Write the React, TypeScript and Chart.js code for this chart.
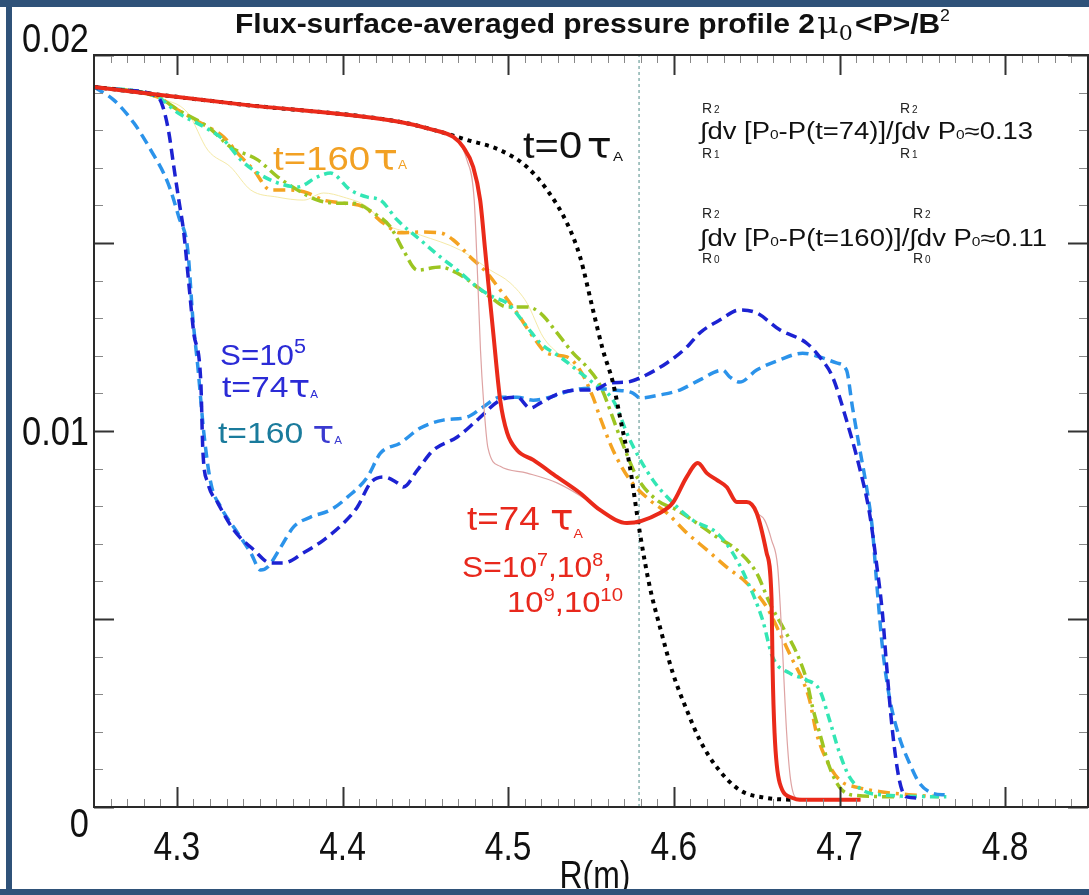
import React, { useEffect, useRef } from "react";
import { Chart, registerables } from "chart.js";
Chart.register(...registerables);

const W = 1089;
const H = 895;

// ---------- data ----------
const xT0 = [4.25, 4.34, 4.4349, 4.4548, 4.4753, 4.4952, 4.5114, 4.5235, 4.5355, 4.5434, 4.5512, 4.5572, 4.5633, 4.5675, 4.5735, 4.5795, 4.5855, 4.5916, 4.5994, 4.6078, 4.6157, 4.6259, 4.6398, 4.656, 4.6717];
const yT0 = [0.01915, 0.01868, 0.01822, 0.01801, 0.01774, 0.01747, 0.01702, 0.01641, 0.01553, 0.01463, 0.01322, 0.01215, 0.01128, 0.01037, 0.00904, 0.00729, 0.00585, 0.00479, 0.00356, 0.00258, 0.00178, 0.00106, 0.00045, 0.00024, 0.00019];

const xRed74 = [4.25, 4.34, 4.4349, 4.4548, 4.4669, 4.4729, 4.4789, 4.4831, 4.4861, 4.488, 4.491, 4.4952, 4.4994, 4.5054, 4.5151, 4.5295, 4.5434, 4.5554, 4.5717, 4.5916, 4.5994, 4.6078, 4.6145, 4.6199, 4.6259, 4.6319, 4.638, 4.644, 4.65, 4.656, 4.659, 4.6596, 4.6608, 4.6639, 4.6717, 4.6759, 4.7127];
const yRed74 = [0.01915, 0.01868, 0.01822, 0.01801, 0.01782, 0.01755, 0.01702, 0.01614, 0.01481, 0.01394, 0.01261, 0.01082, 0.00995, 0.00949, 0.00923, 0.00878, 0.00835, 0.0079, 0.00755, 0.00782, 0.00809, 0.00878, 0.00915, 0.00888, 0.0087, 0.00851, 0.00811, 0.00811, 0.00782, 0.00676, 0.00551, 0.00372, 0.00197, 0.00064, 0.00024, 0.00019, 0.00019];

const xPink74 = [4.25, 4.34, 4.4349, 4.4548, 4.4693, 4.4751, 4.4795, 4.4817, 4.4833, 4.4851, 4.4878, 4.4952, 4.5114, 4.5295, 4.5476, 4.5554, 4.5717, 4.5916, 4.5994, 4.6078, 4.6145, 4.6199, 4.6259, 4.6319, 4.638, 4.644, 4.65, 4.6548, 4.659, 4.6627, 4.6651, 4.6681, 4.6705, 4.6741, 4.7127];
const yPink74 = [0.01915, 0.01868, 0.01822, 0.01801, 0.01774, 0.01721, 0.01614, 0.01394, 0.01215, 0.01082, 0.00955, 0.00906, 0.00888, 0.00862, 0.00816, 0.0079, 0.00755, 0.00782, 0.00809, 0.00878, 0.00915, 0.00888, 0.0087, 0.00851, 0.00811, 0.00811, 0.00782, 0.00763, 0.0071, 0.00638, 0.00463, 0.00197, 0.00072, 0.00024, 0.00019];

const xBlue74 = [4.25, 4.2681, 4.2886, 4.2916, 4.2952, 4.2982, 4.3012, 4.3042, 4.3072, 4.3102, 4.3145, 4.3157, 4.3187, 4.3247, 4.3343, 4.3464, 4.3566, 4.3645, 4.3765, 4.3886, 4.4006, 4.409, 4.4169, 4.4247, 4.4331, 4.4367, 4.4452, 4.4548, 4.4693, 4.4813, 4.4952, 4.5054, 4.5133, 4.5193, 4.5313, 4.5416, 4.5512, 4.5614, 4.5717, 4.5795, 4.5958, 4.6078, 4.6157, 4.6277, 4.6398, 4.65, 4.6639, 4.6801, 4.688, 4.6958, 4.7042, 4.712, 4.7181, 4.7223, 4.7259, 4.7283, 4.7319, 4.7361, 4.7404, 4.7482];
const yBlue74 = [0.01915, 0.01907, 0.01888, 0.01862, 0.01793, 0.01702, 0.01614, 0.01527, 0.01394, 0.01261, 0.01128, 0.00949, 0.00862, 0.00809, 0.00737, 0.00684, 0.00649, 0.00649, 0.00676, 0.0071, 0.00755, 0.00798, 0.00862, 0.00878, 0.00862, 0.00851, 0.00896, 0.00949, 0.00984, 0.01029, 0.01082, 0.0109, 0.01061, 0.01074, 0.01101, 0.01109, 0.01109, 0.01128, 0.0113, 0.01141, 0.01181, 0.01223, 0.01261, 0.01295, 0.01322, 0.01314, 0.01269, 0.01234, 0.01197, 0.01144, 0.01029, 0.00904, 0.00782, 0.00649, 0.00516, 0.00383, 0.00205, 0.00072, 0.00027, 0.00024];

const xBlue160 = [4.25, 4.262, 4.2741, 4.2843, 4.2946, 4.3012, 4.3066, 4.3096, 4.3127, 4.3163, 4.3205, 4.3265, 4.3367, 4.3446, 4.3506, 4.3548, 4.3627, 4.3705, 4.3807, 4.3928, 4.403, 4.4151, 4.4229, 4.4349, 4.447, 4.4608, 4.4753, 4.4849, 4.4952, 4.5054, 4.5151, 4.5253, 4.5392, 4.5512, 4.5633, 4.5753, 4.5795, 4.5916, 4.6036, 4.6157, 4.6295, 4.6337, 4.6398, 4.65, 4.6639, 4.6777, 4.688, 4.6982, 4.7042, 4.7078, 4.712, 4.7163, 4.7199, 4.7223, 4.7259, 4.7301, 4.7361, 4.7422, 4.7482, 4.756, 4.7645];
const yBlue160 = [0.01915, 0.0188, 0.01819, 0.01747, 0.0166, 0.01569, 0.01481, 0.01303, 0.0117, 0.00995, 0.00862, 0.00798, 0.00729, 0.00676, 0.0063, 0.00638, 0.00691, 0.00745, 0.00771, 0.0079, 0.00824, 0.00878, 0.00941, 0.00968, 0.01008, 0.01029, 0.01037, 0.01064, 0.0109, 0.0109, 0.01082, 0.0109, 0.01109, 0.01114, 0.01109, 0.01101, 0.01088, 0.01096, 0.01109, 0.01136, 0.01162, 0.01144, 0.0113, 0.01162, 0.01189, 0.01207, 0.01197, 0.01181, 0.01162, 0.01064, 0.00957, 0.00851, 0.00737, 0.00604, 0.00426, 0.00293, 0.00186, 0.00117, 0.00064, 0.00037, 0.00032];

const xOrange160 = [4.25, 4.2681, 4.2886, 4.3006, 4.3145, 4.3283, 4.3367, 4.3464, 4.3566, 4.3687, 4.3789, 4.3886, 4.4006, 4.4127, 4.4247, 4.4349, 4.447, 4.459, 4.4669, 4.4771, 4.4873, 4.4952, 4.5054, 4.5151, 4.5235, 4.5355, 4.5434, 4.5512, 4.5554, 4.5633, 4.5735, 4.5855, 4.5958, 4.6078, 4.6199, 4.6319, 4.644, 4.656, 4.6639, 4.6717, 4.6777, 4.6819, 4.6861, 4.6922, 4.7, 4.712, 4.7259, 4.744, 4.7602];
const yOrange160 = [0.01915, 0.01907, 0.01888, 0.01854, 0.01819, 0.01782, 0.01739, 0.01694, 0.01641, 0.01641, 0.01633, 0.01614, 0.01606, 0.01596, 0.01553, 0.01527, 0.01529, 0.01527, 0.01508, 0.01463, 0.0142, 0.01375, 0.01314, 0.0125, 0.01207, 0.01197, 0.01162, 0.0109, 0.01037, 0.00949, 0.0087, 0.00816, 0.00782, 0.00729, 0.00684, 0.00638, 0.00596, 0.00532, 0.00463, 0.00391, 0.00338, 0.00285, 0.00197, 0.00125, 0.00072, 0.00051, 0.0004, 0.00032, 0.00027];

const xGreen160 = [4.25, 4.2886, 4.3006, 4.3187, 4.3325, 4.3488, 4.3608, 4.3729, 4.3849, 4.397, 4.4066, 4.4187, 4.4289, 4.4367, 4.4452, 4.459, 4.4693, 4.4813, 4.4892, 4.4994, 4.5114, 4.5193, 4.5295, 4.5392, 4.5476, 4.5554, 4.5675, 4.5777, 4.5898, 4.6018, 4.6139, 4.6259, 4.638, 4.65, 4.6578, 4.6657, 4.6741, 4.6801, 4.6837, 4.688, 4.694, 4.7, 4.7078, 4.7361];
const yGreen160 = [0.01915, 0.01888, 0.01854, 0.01809, 0.01755, 0.01721, 0.01676, 0.01641, 0.01614, 0.01606, 0.01606, 0.0158, 0.01543, 0.01481, 0.01428, 0.01436, 0.0142, 0.01383, 0.01356, 0.0133, 0.0133, 0.01314, 0.01261, 0.01207, 0.0117, 0.01122, 0.00984, 0.00878, 0.00816, 0.0079, 0.00755, 0.00718, 0.00684, 0.00622, 0.00543, 0.00479, 0.0041, 0.00338, 0.00266, 0.00197, 0.00106, 0.00053, 0.00032, 0.00027];

const xCyan160 = [4.25, 4.2886, 4.3006, 4.3163, 4.3283, 4.3386, 4.3488, 4.3608, 4.3729, 4.3849, 4.3928, 4.4048, 4.4151, 4.4229, 4.4331, 4.447, 4.459, 4.4693, 4.4813, 4.491, 4.4994, 4.5114, 4.5193, 4.5313, 4.5416, 4.5512, 4.5633, 4.5735, 4.5873, 4.5994, 4.6114, 4.6259, 4.6355, 4.644, 4.6536, 4.6596, 4.6699, 4.6801, 4.688, 4.694, 4.7, 4.706, 4.7139, 4.7259, 4.7645];
const yCyan160 = [0.01915, 0.01888, 0.01846, 0.01809, 0.01774, 0.01721, 0.01686, 0.0166, 0.01649, 0.01676, 0.01686, 0.01641, 0.01622, 0.01614, 0.01561, 0.01508, 0.01463, 0.01428, 0.01383, 0.01356, 0.0134, 0.01277, 0.01234, 0.01197, 0.01162, 0.01128, 0.01082, 0.00976, 0.0087, 0.00809, 0.00763, 0.00729, 0.00676, 0.00604, 0.00497, 0.00399, 0.00356, 0.00338, 0.00311, 0.00231, 0.00144, 0.0008, 0.00045, 0.00032, 0.00027];

const xYellow160 = [4.2886, 4.3066, 4.3187, 4.3325, 4.3446, 4.3608, 4.3765, 4.3886, 4.4006, 4.4151, 4.4247, 4.447, 4.4711, 4.4892, 4.5012, 4.5114, 4.5211, 4.5313, 4.5434];
const yYellow160 = [0.01888, 0.01846, 0.01747, 0.01702, 0.01641, 0.01622, 0.01614, 0.01633, 0.01622, 0.01596, 0.01553, 0.01521, 0.01481, 0.01428, 0.01394, 0.0134, 0.0125, 0.01202, 0.01157];

const xMarker = [4.579, 4.579];
const yMarker = [0, 0.02];

const xTickLabels = ["4.3", "4.4", "4.5", "4.6", "4.7", "4.8"];
const xTickValues = [4.3, 4.4, 4.5, 4.6, 4.7, 4.8];
const yTickLabels = ["0", "0.01", "0.02"];
const yTickValues = [0, 0.01, 0.02];

const X_MIN = 4.25, X_MAX = 4.85, Y_MIN = 0, Y_MAX = 0.02;

const pts = (xs: number[], ys: number[]) => xs.map((x, i) => ({ x, y: ys[i] }));

type Run = { t: string; f: string; dy?: number; c?: string; dx?: number };

function drawRuns(ctx: CanvasRenderingContext2D, runs: Run[], x: number, y: number, color: string, targetW?: number, align: "left" | "center" | "right" = "left") {
  ctx.save();
  ctx.textBaseline = "alphabetic";
  ctx.textAlign = "left";
  let w = 0;
  for (const r of runs) {
    ctx.font = r.f;
    w += ctx.measureText(r.t).width + (r.dx || 0);
  }
  const s = targetW ? targetW / w : 1;
  let x0 = x;
  if (align === "center") x0 = x - (w * s) / 2;
  if (align === "right") x0 = x - w * s;
  ctx.translate(x0, y);
  ctx.scale(s, 1);
  let cx = 0;
  for (const r of runs) {
    ctx.font = r.f;
    ctx.fillStyle = r.c || color;
    cx += r.dx || 0;
    ctx.fillText(r.t, cx, r.dy || 0);
    cx += ctx.measureText(r.t).width;
  }
  ctx.restore();
}

const SANS = "'Liberation Sans', Arial, sans-serif";
const SERIF = "'DejaVu Serif', 'Liberation Serif', serif";
const GREEK = "'DejaVu Sans', sans-serif";

const framePlugin = {
  id: "framePlugin",
  beforeDraw(chart: any) {
    const ctx = chart.ctx as CanvasRenderingContext2D;
    ctx.save();
    ctx.fillStyle = "#ffffff";
    ctx.fillRect(0, 0, W, H);
    ctx.restore();
  },
  afterDraw(chart: any) {
    const ctx = chart.ctx as CanvasRenderingContext2D;
    const xs = chart.scales.x;
    const ys = chart.scales.y;
    const a = chart.chartArea;
    ctx.save();
    // ticks
    for (let i = 0; i <= 20; i++) {
      const v = i * 0.001;
      const py = Math.round(ys.getPixelForValue(v)) + 0.5;
      const major = i % 5 === 0;
      const len = major ? 20 : 9;
      ctx.lineWidth = major ? 2 : 1;
      ctx.strokeStyle = major ? "#333" : "#888";
      ctx.beginPath();
      ctx.moveTo(a.left, py); ctx.lineTo(a.left + len, py);
      ctx.moveTo(a.right, py); ctx.lineTo(a.right - len, py);
      ctx.stroke();
    }
    for (let i = 0; i <= 60; i++) {
      const v = 4.25 + i * 0.01;
      const px = Math.round(xs.getPixelForValue(v)) + 0.5;
      const major = (i + 5) % 10 === 0;
      const len = major ? 20 : 8;
      ctx.lineWidth = major ? 2 : 1;
      ctx.strokeStyle = major ? "#333" : "#888";
      ctx.beginPath();
      ctx.moveTo(px, a.bottom); ctx.lineTo(px, a.bottom - len);
      ctx.moveTo(px, a.top); ctx.lineTo(px, a.top + len);
      ctx.stroke();
    }
    // box
    ctx.strokeStyle = "#2a2a2a";
    ctx.lineWidth = 2;
    ctx.strokeRect(a.left, a.top, a.right - a.left, a.bottom - a.top);

    // tick labels
    const tickFont = `40px ${SANS}`;
    xTickValues.forEach((v, i) => {
      const px = xs.getPixelForValue(v);
      ctx.font = tickFont;
      const w = ctx.measureText(xTickLabels[i]).width * 0.84;
      drawRuns(ctx, [{ t: xTickLabels[i], f: tickFont }], px, 860, "#111", w, "center");
    });
    const yOff = [30, 14, -3];
    yTickValues.forEach((v, i) => {
      const py = ys.getPixelForValue(v);
      ctx.font = tickFont;
      const w = ctx.measureText(yTickLabels[i]).width * 0.86;
      drawRuns(ctx, [{ t: yTickLabels[i], f: tickFont }], 89, py + yOff[i], "#111", w, "right");
    });
    // axis title
    const at = `38px ${SANS}`;
    ctx.font = at;
    drawRuns(ctx, [{ t: "R(m)", f: at }], (a.left + a.right) / 2 + 4, 888, "#111", ctx.measureText("R(m)").width * 0.84, "center");

    // chart title
    drawRuns(ctx, [
      { t: "Flux-surface-averaged pressure profile 2", f: `bold 27px ${SANS}` },
      { t: "μ", f: `30px ${SERIF}`, dx: 2 },
      { t: "0", f: `20px ${SERIF}`, dy: 7 },
      { t: "<P>/B", f: `bold 27px ${SANS}`, dx: 2 },
      { t: "2", f: `16px ${SANS}`, dy: -12 },
    ], 235, 33, "#111", 715);

    // t=0
    drawRuns(ctx, [
      { t: "t=0", f: `36px ${SANS}` },
      { t: "τ", f: `36px ${GREEK}`, dx: 4 },
      { t: "A", f: `13px ${SANS}`, dy: 3, dx: 1 },
    ], 523, 158, "#111", 100);

    // t=160 orange
    drawRuns(ctx, [
      { t: "t=160", f: `34px ${SANS}` },
      { t: "τ", f: `36px ${GREEK}`, dx: 3 },
      { t: "A", f: `12px ${SANS}`, dy: -1 },
    ], 273, 170, "#f2a124", 134);

    // blue block
    drawRuns(ctx, [
      { t: "S=10", f: `29px ${SANS}` },
      { t: "5", f: `20px ${SANS}`, dy: -12 },
    ], 220, 365, "#2b2bd6", 86);
    drawRuns(ctx, [
      { t: "t=74", f: `29px ${SANS}` },
      { t: "τ", f: `31px ${GREEK}` },
      { t: "A", f: `10px ${SANS}`, dy: 1 },
    ], 222, 397, "#2b2bd6", 96);
    drawRuns(ctx, [
      { t: "t=160 ", f: `29px ${SANS}`, c: "#1a7b9c" },
      { t: "τ", f: `31px ${GREEK}`, c: "#3a3ad0" },
      { t: "A", f: `10px ${SANS}`, dy: 1, c: "#3a3ad0" },
    ], 218, 443, "#1a7b9c", 124);

    // red block
    drawRuns(ctx, [
      { t: "t=74 ", f: `34px ${SANS}` },
      { t: "τ", f: `36px ${GREEK}` },
      { t: "A", f: `13px ${SANS}`, dy: 8 },
    ], 467, 530, "#e8281c", 116);
    drawRuns(ctx, [
      { t: "S=10", f: `29px ${SANS}` },
      { t: "7", f: `18px ${SANS}`, dy: -11 },
      { t: ",10", f: `29px ${SANS}` },
      { t: "8", f: `18px ${SANS}`, dy: -11 },
      { t: ",", f: `29px ${SANS}` },
    ], 462, 577, "#e8281c", 150);
    drawRuns(ctx, [
      { t: "10", f: `29px ${SANS}` },
      { t: "9", f: `18px ${SANS}`, dy: -11 },
      { t: ",10", f: `29px ${SANS}` },
      { t: "10", f: `18px ${SANS}`, dy: -11 },
    ], 507, 612, "#e8281c", 116);

    // integrals
    const nf = `23px ${SANS}`;
    const sf = `13px ${SANS}`;
    const rf = `14px ${SANS}`;
    const rs = `10px ${SANS}`;
    const R = (x: number, y: number, sub: string) =>
      drawRuns(ctx, [{ t: "R", f: rf }, { t: sub, f: rs, dx: 2 }], x, y, "#222");
    drawRuns(ctx, [
      { t: "∫dv [P", f: nf }, { t: "0", f: sf }, { t: "-P(t=74)]/", f: nf },
      { t: "∫dv P", f: nf }, { t: "0", f: sf }, { t: "≈0.13", f: nf },
    ], 700, 139, "#111", 333);
    R(702, 113, "2"); R(900, 113, "2"); R(702, 158, "1"); R(900, 158, "1");
    drawRuns(ctx, [
      { t: "∫dv [P", f: nf }, { t: "0", f: sf }, { t: "-P(t=160)]/", f: nf },
      { t: "∫dv P", f: nf }, { t: "0", f: sf }, { t: "≈0.11", f: nf },
    ], 700, 246, "#111", 347);
    R(702, 218, "2"); R(913, 218, "2"); R(702, 263, "0"); R(913, 263, "0");

    // outer frame
    ctx.fillStyle = "#2f5279";
    ctx.fillRect(0, 0, W, 7);
    ctx.fillRect(6, 0, 6, H);
    ctx.fillRect(0, H - 6, W, 6);
    ctx.restore();
  },
};

export default function App() {
  const ref = useRef<HTMLCanvasElement | null>(null);
  useEffect(() => {
    if (!ref.current) return;
    const base = { pointRadius: 0, fill: false, cubicInterpolationMode: "monotone" as const, borderCapStyle: "butt" as const };
    const chart = new Chart(ref.current, {
      type: "line",
      data: {
        datasets: [
          { ...base, label: "t=74 S=1e7", data: pts(xRed74, yRed74), borderColor: "#ea2a1a", borderWidth: 4 },
          { ...base, label: "t=74 S=1e8", data: pts(xPink74, yPink74), borderColor: "#dea3a3", borderWidth: 1.2 },
          { ...base, label: "t=0", data: pts(xT0, yT0), borderColor: "#000000", borderWidth: 4, borderDash: [4, 5] },
          { ...base, label: "S=1e5 t=74", data: pts(xBlue74, yBlue74), borderColor: "#1c22d2", borderWidth: 3.5, borderDash: [11, 6] },
          { ...base, label: "S=1e5 t=160", data: pts(xBlue160, yBlue160), borderColor: "#2b93ea", borderWidth: 3.5, borderDash: [11, 6] },
          { ...base, label: "t=160 cyan", data: pts(xCyan160, yCyan160), borderColor: "#33e6b4", borderWidth: 3.5, borderDash: [9, 5, 3, 5] },
          { ...base, label: "t=160 green", data: pts(xGreen160, yGreen160), borderColor: "#9cc522", borderWidth: 3.5, borderDash: [12, 5, 3, 5] },
          { ...base, label: "t=160 orange", data: pts(xOrange160, yOrange160), borderColor: "#f4a321", borderWidth: 3.5, borderDash: [12, 6, 3, 6] },
          { ...base, label: "t=160 yellow", data: pts(xYellow160, yYellow160), borderColor: "#f5eaa6", borderWidth: 1 },
          { ...base, label: "marker", data: pts(xMarker, yMarker), borderColor: "#4f8c88", borderWidth: 1, borderDash: [3, 3], cubicInterpolationMode: "default" as const, tension: 0 },
        ],
      },
      options: {
        animation: false,
        responsive: false,
        devicePixelRatio: 1,
        layout: { padding: { left: 94, right: W - 1088, top: 55, bottom: H - 807 } },
        plugins: { legend: { display: false }, tooltip: { enabled: false }, title: { display: false } },
        scales: {
          x: { type: "linear", min: X_MIN, max: X_MAX, display: false },
          y: { type: "linear", min: Y_MIN, max: Y_MAX, display: false },
        },
      },
      plugins: [framePlugin],
    });
    return () => chart.destroy();
  }, []);
  return (
    <div style={{ position: "fixed", left: 0, top: 0, width: W, height: H, background: "#fff", overflow: "hidden" }}>
      <canvas ref={ref} width={W} height={H} style={{ width: W, height: H, display: "block" }} />
    </div>
  );
}
